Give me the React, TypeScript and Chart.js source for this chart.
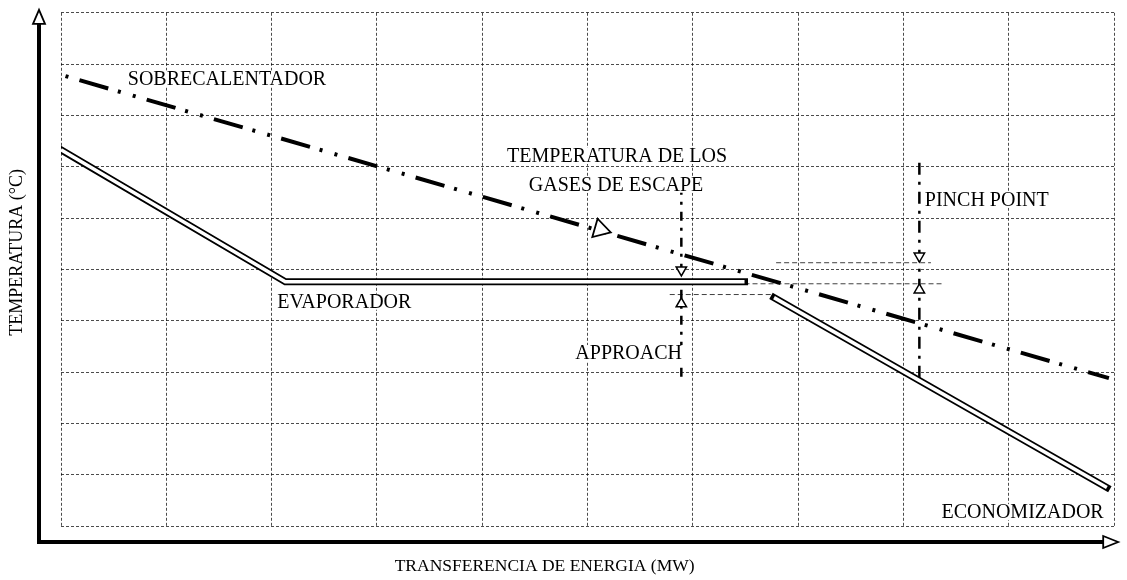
import React, { useEffect, useRef } from "react";
import { Chart, registerables } from "chart.js";

Chart.register(...registerables);

// Axis range (schematic, no numeric ticks shown)
const xTicks = [0, 1, 2, 3, 4, 5, 6, 7, 8, 9, 10];
const yTicks = [0, 1, 2, 3, 4, 5, 6, 7, 8, 9, 10];

// Exhaust gas line (sobrecalentador side -> economizador side)
const gasX = [0.02, 9.95];
const gasY = [8.78, 2.88];

// Steam / water profile: superheater + evaporator
const steamX = [0.0, 2.13, 6.49];
const steamY = [7.33, 4.76, 4.76];

// Water profile: economizer
const econX = [6.77, 9.93];
const econY = [4.45, 0.75];

// Approach marker (vertical)
const approachX = [5.89, 5.89];
const approachY = [6.63, 2.88];
const approachArrowY = [4.99, 4.33];

// Pinch point marker (vertical)
const pinchX = [8.15, 8.15];
const pinchY = [7.08, 2.77];
const pinchArrowY = [5.26, 4.6];

// Thin dashed reference levels
const refApproachX = [5.78, 6.77];
const refApproachY = [4.51, 4.51];
const refPinchUpX = [6.79, 8.26];
const refPinchUpY = [5.13, 5.13];
const refPinchLowX = [6.49, 8.37];
const refPinchLowY = [4.72, 4.72];

// Direction arrow on the gas line
const gasArrowX = [5.12];
const gasArrowY = [5.78];

// Text labels
const labelText = [
  "SOBRECALENTADOR",
  "TEMPERATURA DE LOS",
  "GASES DE ESCAPE",
  "PINCH POINT",
  "EVAPORADOR",
  "APPROACH",
  "ECONOMIZADOR",
];
const labelX = [1.576, 5.28, 5.27, 8.79, 2.69, 5.39, 9.13];
const labelY = [8.72, 7.21, 6.65, 6.36, 4.37, 3.37, 0.27];

const xTitle = "TRANSFERENCIA DE ENERGIA (MW)";
const yTitle = "TEMPERATURA (°C)";

const zip = (xs: number[], ys: number[]) => xs.map((x, i) => ({ x, y: ys[i] }));

const SERIF = '"Liberation Serif", "DejaVu Serif", serif';

const overlayPlugin = {
  id: "overlay",
  afterDraw(chart: any) {
    const { ctx, chartArea, scales } = chart;
    const xs = scales.x;
    const ys = scales.y;
    ctx.save();
    // Axes (thick black with hollow arrowheads)
    const ax = chartArea.left - 22;
    const ay = chartArea.bottom + 16;
    ctx.strokeStyle = "#000";
    ctx.lineWidth = 4;
    ctx.beginPath();
    ctx.moveTo(ax, ay + 2);
    ctx.lineTo(ax, chartArea.top + 11);
    ctx.stroke();
    ctx.beginPath();
    ctx.moveTo(ax - 2, ay);
    ctx.lineTo(chartArea.right - 11, ay);
    ctx.stroke();
    ctx.lineWidth = 1.8;
    ctx.fillStyle = "#fff";
    // y arrow
    ctx.beginPath();
    ctx.moveTo(ax, chartArea.top - 3);
    ctx.lineTo(ax - 6, chartArea.top + 11);
    ctx.lineTo(ax + 6, chartArea.top + 11);
    ctx.closePath();
    ctx.fill();
    ctx.stroke();
    // x arrow
    ctx.beginPath();
    ctx.moveTo(chartArea.right + 4, ay);
    ctx.lineTo(chartArea.right - 11, ay - 6);
    ctx.lineTo(chartArea.right - 11, ay + 6);
    ctx.closePath();
    ctx.fill();
    ctx.stroke();

    // Axis titles
    ctx.fillStyle = "#000";
    ctx.font = `17.5px ${SERIF}`;
    ctx.textAlign = "center";
    ctx.textBaseline = "middle";
    ctx.fillText(xTitle, (chartArea.left + chartArea.right) / 2 - 43, ay + 24);
    ctx.save();
    ctx.font = `18px ${SERIF}`;
    ctx.translate(17, (chartArea.top + chartArea.bottom) / 2 - 17);
    ctx.rotate(-Math.PI / 2);
    ctx.fillText(yTitle, 0, 0);
    ctx.restore();

    // Labels
    ctx.font = `20px ${SERIF}`;
    labelText.forEach((t, i) => {
      const px = xs.getPixelForValue(labelX[i]);
      const py = ys.getPixelForValue(labelY[i]);
      const w = ctx.measureText(t).width;
      ctx.fillStyle = "#fff";
      ctx.fillRect(px - w / 2 - 2, py - 8, w + 4, 16);
      ctx.fillStyle = "#000";
      ctx.fillText(t, px, py + 1);
    });
    ctx.restore();
  },
};

export default function App() {
  const canvasRef = useRef<HTMLCanvasElement | null>(null);

  useEffect(() => {
    if (!canvasRef.current) return;
    const gridColor = "rgba(0,0,0,0.7)";
    const chart = new Chart(canvasRef.current, {
      type: "line",
      data: {
        datasets: [
          {
            label: "gas-arrow",
            data: zip(gasArrowX, gasArrowY),
            showLine: false,
            pointStyle: "triangle",
            rotation: 106,
            pointRadius: 11,
            backgroundColor: "#fff",
            borderColor: "#000",
            borderWidth: 1.8,
            order: 0,
          },
          {
            label: "approach-arrows",
            data: zip([approachX[0], approachX[0]], approachArrowY),
            showLine: false,
            pointStyle: "triangle",
            rotation: [180, 0],
            pointRadius: 6,
            backgroundColor: "#fff",
            borderColor: "#000",
            borderWidth: 1.5,
            order: 0,
          },
          {
            label: "pinch-arrows",
            data: zip([pinchX[0], pinchX[0]], pinchArrowY),
            showLine: false,
            pointStyle: "triangle",
            rotation: [180, 0],
            pointRadius: 6,
            backgroundColor: "#fff",
            borderColor: "#000",
            borderWidth: 1.5,
            order: 0,
          },
          {
            label: "gas",
            data: zip(gasX, gasY),
            borderColor: "#000",
            borderWidth: 4,
            borderDash: [30, 10, 3, 12.5, 3, 11.5],
            borderDashOffset: 53,
            pointRadius: 0,
            order: 1,
          },
          {
            label: "steam-inner",
            data: zip(steamX, steamY),
            borderColor: "#fff",
            borderWidth: 3.5,
            pointRadius: 0,
            order: 2,
          },
          {
            label: "steam-outer",
            data: zip(steamX, steamY),
            borderColor: "#000",
            borderWidth: 7,
            borderCapStyle: "square",
            pointRadius: 0,
            order: 3,
          },
          {
            label: "econ-inner",
            data: zip(econX, econY),
            borderColor: "#fff",
            borderWidth: 3.5,
            pointRadius: 0,
            order: 2,
          },
          {
            label: "econ-outer",
            data: zip(econX, econY),
            borderColor: "#000",
            borderWidth: 7,
            borderCapStyle: "square",
            pointRadius: 0,
            order: 3,
          },
          {
            label: "approach",
            data: zip(approachX, approachY),
            borderColor: "#000",
            borderWidth: 2.5,
            borderDash: [9, 7, 3, 7],
            pointRadius: 0,
            order: 4,
          },
          {
            label: "pinch",
            data: zip(pinchX, pinchY),
            borderColor: "#000",
            borderWidth: 2.5,
            borderDash: [12, 7, 3, 7],
            pointRadius: 0,
            order: 4,
          },
          {
            label: "ref-approach",
            data: zip(refApproachX, refApproachY),
            borderColor: "rgba(0,0,0,0.75)",
            borderWidth: 1,
            borderDash: [5, 3],
            pointRadius: 0,
            order: 5,
          },
          {
            label: "ref-pinch-up",
            data: zip(refPinchUpX, refPinchUpY),
            borderColor: "rgba(0,0,0,0.75)",
            borderWidth: 1,
            borderDash: [5, 3],
            pointRadius: 0,
            order: 5,
          },
          {
            label: "ref-pinch-low",
            data: zip(refPinchLowX, refPinchLowY),
            borderColor: "rgba(0,0,0,0.75)",
            borderWidth: 1,
            borderDash: [5, 3],
            pointRadius: 0,
            order: 5,
          },
        ],
      },
      options: {
        responsive: false,
        animation: false,
        layout: { padding: { left: 61, right: 12, top: 9, bottom: 54 } },
        plugins: {
          legend: { display: false },
          tooltip: { enabled: false },
          title: { display: false },
        },
        scales: {
          x: {
            type: "linear",
            min: xTicks[0],
            max: xTicks[xTicks.length - 1],
            ticks: { display: false, stepSize: 1 },
            afterBuildTicks: (axis: any) => {
              axis.ticks = xTicks.map((v) => ({ value: v }));
            },
            grid: { color: gridColor, lineWidth: 1, drawTicks: false },
            border: { display: false, dash: [3, 2] },
          },
          y: {
            type: "linear",
            min: yTicks[0],
            max: yTicks[yTicks.length - 1],
            ticks: { display: false, stepSize: 1 },
            afterBuildTicks: (axis: any) => {
              axis.ticks = yTicks.map((v) => ({ value: v }));
            },
            grid: { color: gridColor, lineWidth: 1, drawTicks: false },
            border: { display: false, dash: [3, 2] },
          },
        },
      },
      plugins: [overlayPlugin],
    } as any);
    return () => chart.destroy();
  }, []);

  return (
    <div style={{ position: "absolute", left: 0, top: 0, width: 1127, height: 580, background: "#fff" }}>
      <canvas ref={canvasRef} width={1127} height={580} style={{ display: "block" }} />
    </div>
  );
}
